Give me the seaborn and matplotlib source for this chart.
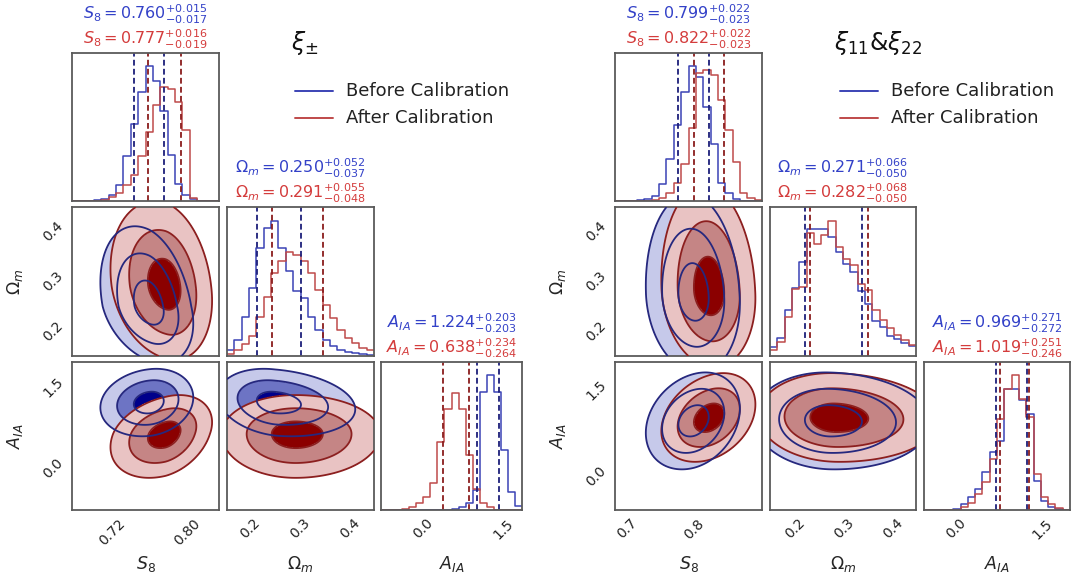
import numpy as np
import pandas as pd
import matplotlib
matplotlib.use("Agg")
import matplotlib.pyplot as plt
from matplotlib.lines import Line2D
import seaborn as sns

sns.set_theme(style="white")
plt.rcParams["font.family"] = ["DejaVu Sans"]
plt.rcParams["mathtext.fontset"] = "dejavusans"

W, H = 1072, 581

param_names = [r"S_8", r"\Omega_m", r"A_{IA}"]

# ---------------- xi_pm analysis: marginal summaries (median, +err, -err) ----------------
pm_before_med = [0.760, 0.250, 1.224]
pm_before_up = [0.015, 0.052, 0.203]
pm_before_lo = [0.017, 0.037, 0.203]
pm_after_med = [0.777, 0.291, 0.638]
pm_after_up = [0.016, 0.055, 0.234]
pm_after_lo = [0.019, 0.048, 0.264]

# ---------------- xi_11 & xi_22 analysis ----------------
xx_before_med = [0.799, 0.271, 0.969]
xx_before_up = [0.022, 0.066, 0.271]
xx_before_lo = [0.023, 0.050, 0.272]
xx_after_med = [0.822, 0.282, 1.019]
xx_after_up = [0.022, 0.068, 0.251]
xx_after_lo = [0.023, 0.050, 0.246]

# correlation coefficients for the pairs (Om,S8), (A,S8), (A,Om)
pm_before_rho = [-0.30, 0.15, -0.20]
pm_after_rho = [-0.20, 0.30, 0.00]
xx_before_rho = [-0.10, 0.25, -0.05]
xx_after_rho = [-0.10, 0.30, -0.05]

# 2D contour radii in units of the marginal widths
contour_radii = [1.0, 2.05, 3.1]

# 1D histogram counts, 20 bins spanning each panel's range
pm_s8_before = [0, 0, 0, 2, 6, 18, 48, 136, 233, 330, 408, 363, 273, 138, 53, 18, 6, 0, 0, 0]
pm_s8_after = [0, 0, 0, 0, 3, 12, 25, 50, 80, 135, 210, 290, 346, 340, 300, 215, 8, 0, 0, 0]
pm_om_before = [18, 48, 118, 203, 323, 383, 405, 323, 253, 193, 173, 118, 78, 48, 30, 18, 13, 8, 6, 4]
pm_om_after = [6, 18, 35, 60, 118, 176, 248, 283, 310, 303, 283, 248, 198, 153, 113, 78, 53, 38, 23, 18]
pm_a_before = [0, 0, 0, 0, 0, 0, 0, 0, 0, 0, 3, 10, 20, 60, 355, 405, 355, 180, 55, 12]
pm_a_after = [0, 0, 0, 3, 8, 20, 40, 80, 205, 305, 352, 305, 165, 62, 20, 8, 0, 0, 0, 0]

xx_s8_before = [0, 0, 0, 3, 7, 15, 50, 125, 227, 325, 400, 370, 280, 170, 55, 23, 7, 0, 0, 0]
xx_s8_after = [0, 0, 0, 0, 0, 3, 10, 23, 55, 110, 217, 380, 390, 375, 300, 210, 115, 25, 10, 3]
xx_om_before = [26, 53, 140, 206, 283, 383, 383, 383, 358, 313, 278, 253, 196, 158, 106, 88, 60, 50, 38, 30]
xx_om_after = [18, 43, 118, 203, 208, 370, 338, 363, 408, 328, 293, 273, 218, 198, 138, 108, 83, 63, 48, 33]
xx_a_before = [0, 0, 0, 0, 3, 18, 40, 63, 113, 173, 208, 363, 363, 328, 288, 88, 28, 10, 3, 0]
xx_a_after = [0, 0, 0, 0, 0, 8, 20, 48, 83, 153, 273, 363, 403, 333, 278, 108, 40, 18, 6, 0]

# axis limits (x for columns, y for rows)
pm_xlim = [(0.677, 0.834), (0.153, 0.449), (-0.78, 1.855)]
pm_ylim = [None, (0.15, 0.45), (-0.78, 1.98)]
xx_xlim = [(0.682, 0.900), (0.150, 0.447), (-0.557, 1.99)]
xx_ylim = [None, (0.15, 0.45), (-0.58, 1.99)]

pm_ticks = [[0.72, 0.80], [0.2, 0.3, 0.4], [0.0, 1.5]]
pm_ticklabels = [["0.72", "0.80"], ["0.2", "0.3", "0.4"], ["0.0", "1.5"]]
xx_ticks = [[0.7, 0.8], [0.2, 0.3, 0.4], [0.0, 1.5]]
xx_ticklabels = [["0.7", "0.8"], ["0.2", "0.3", "0.4"], ["0.0", "1.5"]]

series_names = ["Before Calibration", "After Calibration"]

# ---------------- styling ----------------
HIST_C = ["#3b43b5", "#bf4a4a"]
DASH_C = ["#1c1f7a", "#8a1d1d"]
TITLE_C = ["#3341c8", "#d43c3c"]
LINE_C = ["#26287e", "#8c1f1f"]
FILL_C = [["#00008b", "#6d74c4", "#c6c9ea"],
          ["#8b0000", "#c58585", "#e9c3c3"]]
SPINE_C = "#5a5a5a"

rows_px = [(53, 201), (207, 356), (362, 510)]
pm_cols_px = [(72, 219), (227, 374), (381, 522)]
xx_cols_px = [(615, 762), (770, 916), (924, 1070)]

fig = plt.figure(figsize=(W / 100, H / 100), dpi=100)


def add_axes(col, row):
    x0, x1 = col
    y0, y1 = row
    return fig.add_axes([x0 / W, 1 - y1 / H, (x1 - x0) / W, (y1 - y0) / H])


def style_axes(ax):
    for sp in ax.spines.values():
        sp.set_color(SPINE_C)
        sp.set_linewidth(1.3)
    ax.tick_params(direction="out", length=3, width=0.8, color=SPINE_C,
                   labelsize=10, pad=1.5, labelcolor="#222222")
    ax.grid(False)


def q_field(gx, gy, mx, ux, lx, my, uy, ly, rho):
    zx = (gx - mx) / np.where(gx >= mx, ux, lx)
    zy = (gy - my) / np.where(gy >= my, uy, ly)
    return (zx ** 2 - 2 * rho * zx * zy + zy ** 2) / (1 - rho ** 2)


def draw_corner(cols_px, stats, hists, rhos, xlim, ylim, ticks, ticklabels):
    pair_index = {(1, 0): 0, (2, 0): 1, (2, 1): 2}
    qlev = [r_ ** 2 for r_ in contour_radii]
    for r in range(3):
        for c in range(r + 1):
            ax = add_axes(cols_px[c], rows_px[r])
            style_axes(ax)
            if r == c:
                edges = np.linspace(xlim[c][0], xlim[c][1], 21)
                centers = 0.5 * (edges[:-1] + edges[1:])
                top = 0
                for k in range(2):
                    counts = np.asarray(hists[k][c], float)
                    top = max(top, counts.max())
                    df = pd.DataFrame({"value": centers, "count": counts})
                    sns.histplot(data=df, x="value", weights="count", bins=list(edges),
                                 element="step", fill=False, color=HIST_C[k],
                                 linewidth=1.1, ax=ax)
                for k in range(2):
                    med, up, lo = stats[k][0][c], stats[k][1][c], stats[k][2][c]
                    for v in (med - lo, med + up):
                        ax.axvline(v, color=DASH_C[k], ls=(0, (3.2, 1.8)), lw=1.3)
                    ax.annotate(rf"${param_names[c]} = {med:.3f}^{{+{up:.3f}}}_{{-{lo:.3f}}}$",
                                xy=(0.5, 1), xycoords="axes fraction",
                                xytext=(0, 27.5 if k == 0 else 10.0), textcoords="offset points",
                                ha="center", va="center", fontsize=11.5, color=TITLE_C[k])
                ax.set_ylim(0, 1.1 * top)
                ax.set_yticks([])
                ax.set_ylabel("")
            else:
                gx, gy = np.meshgrid(np.linspace(xlim[c][0], xlim[c][1], 400),
                                     np.linspace(ylim[r][0], ylim[r][1], 400))
                p = pair_index[(r, c)]
                fields = []
                for k in range(2):
                    s = stats[k]
                    fields.append(q_field(gx, gy, s[0][c], s[1][c], s[2][c],
                                          s[0][r], s[1][r], s[2][r], rhos[k][p]))
                for k in range(2):
                    ax.contourf(gx, gy, fields[k], levels=[-0.1] + qlev,
                                colors=FILL_C[k], zorder=1 + k)
                for k in (1, 0):
                    ax.contour(gx, gy, fields[k], levels=qlev,
                               colors=LINE_C[k], linewidths=1.3, zorder=4 - k)
                ax.set_ylim(*ylim[r])
                ax.set_yticks(ticks[r])
                if c == 0:
                    ax.set_yticklabels(ticklabels[r], rotation=45, va="center")
                    ax.set_ylabel(rf"${param_names[r]}$", fontsize=12.5)
                    ax.yaxis.label.set_verticalalignment("center")
                    ax.yaxis.set_label_coords(-0.385, 0.5)
                else:
                    ax.set_yticklabels([])
                    ax.set_ylabel("")
            ax.set_xlim(*xlim[c])
            ax.set_xticks(ticks[c])
            if r == 2:
                ax.set_xticklabels(ticklabels[c], rotation=45, ha="center")
                ax.set_xlabel(rf"${param_names[c]}$", fontsize=12.5)
                ax.xaxis.set_label_coords(0.5, -0.3)
            else:
                ax.set_xticklabels([])
                ax.set_xlabel("")


pm_stats = [(pm_before_med, pm_before_up, pm_before_lo), (pm_after_med, pm_after_up, pm_after_lo)]
xx_stats = [(xx_before_med, xx_before_up, xx_before_lo), (xx_after_med, xx_after_up, xx_after_lo)]
pm_hists = [(pm_s8_before, pm_om_before, pm_a_before), (pm_s8_after, pm_om_after, pm_a_after)]
xx_hists = [(xx_s8_before, xx_om_before, xx_a_before), (xx_s8_after, xx_om_after, xx_a_after)]

draw_corner(pm_cols_px, pm_stats, pm_hists, (pm_before_rho, pm_after_rho), pm_xlim, pm_ylim,
            pm_ticks, pm_ticklabels)
draw_corner(xx_cols_px, xx_stats, xx_hists, (xx_before_rho, xx_after_rho), xx_xlim, xx_ylim,
            xx_ticks, xx_ticklabels)

# panel titles and legends
for title, tx, lx in ((r"$\xi_{\pm}$", 305, 295), (r"$\xi_{11}$&$\xi_{22}$", 878, 840)):
    fig.text(tx / W, 1 - 43 / H, title, fontsize=17, ha="center", va="center", color="#111111")
    for k, ly in enumerate((91, 118)):
        fig.add_artist(Line2D([lx / W, (lx + 38) / W], [1 - ly / H, 1 - ly / H],
                              color=HIST_C[k], lw=1.4))
        fig.text((lx + 51) / W, 1 - ly / H, series_names[k], fontsize=13,
                 ha="left", va="center", color="#222222")

fig.savefig("out.png", dpi=100)
